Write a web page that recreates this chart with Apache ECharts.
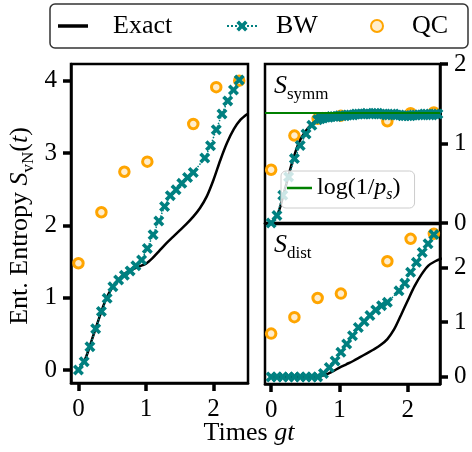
<!DOCTYPE html>
<html>
<head>
<meta charset="utf-8">
<script src="https://cdn.jsdelivr.net/npm/echarts@6/dist/echarts.min.js"></script>
<style>
html, body { margin: 0; padding: 0; background: #fff; }
#main { width: 472px; height: 452px; }
</style>
</head>
<body>
<div id="main"></div>
<script>
// exact curve, sampled every 0.1
var exactTime = [0, 0.1, 0.2, 0.3, 0.4, 0.5, 0.6, 0.7, 0.8, 0.9, 1.0, 1.1, 1.2, 1.3, 1.4, 1.5, 1.6, 1.7, 1.8, 1.9, 2.0, 2.1, 2.2, 2.3, 2.4, 2.5];
var exactTotal = [0, 0.15, 0.42, 0.70, 0.96, 1.14, 1.26, 1.34, 1.39, 1.43, 1.47, 1.55, 1.65, 1.75, 1.84, 1.93, 2.02, 2.12, 2.24, 2.40, 2.63, 2.90, 3.14, 3.33, 3.46, 3.54];
var exactSymm = [0, 0.12, 0.42, 0.74, 1.0, 1.15, 1.25, 1.30, 1.33, 1.34, 1.35, 1.35, 1.36, 1.36, 1.37, 1.37, 1.37, 1.37, 1.38, 1.37, 1.36, 1.36, 1.36, 1.37, 1.37, 1.37];
var exactDist = [0, 0, 0, 0, 0, 0, 0, 0.01, 0.04, 0.10, 0.17, 0.23, 0.29, 0.36, 0.43, 0.50, 0.58, 0.69, 0.87, 1.13, 1.40, 1.66, 1.87, 2.03, 2.11, 2.16];

// BW markers (one sample near 1.785 is absent in the figure)
var bwTime = [0, 0.085, 0.17, 0.255, 0.34, 0.425, 0.51, 0.595, 0.68, 0.765, 0.85, 0.935, 1.02, 1.105, 1.19, 1.275, 1.36, 1.445, 1.53, 1.615, 1.70, 1.87, 1.955, 2.04, 2.125, 2.21, 2.295, 2.38];
var bwTotal = [0, 0.115, 0.32, 0.57, 0.81, 0.99, 1.15, 1.245, 1.31, 1.37, 1.44, 1.52, 1.68, 1.87, 2.06, 2.26, 2.41, 2.49, 2.58, 2.66, 2.73, 2.93, 3.10, 3.32, 3.54, 3.72, 3.87, 4.01];
var bwDist = [0, 0, 0, 0, 0, 0, 0, 0, 0, 0.06, 0.17, 0.29, 0.45, 0.60, 0.75, 0.90, 1.01, 1.12, 1.22, 1.30, 1.36, 1.57, 1.71, 1.91, 2.09, 2.27, 2.43, 2.60];
// symmetric part: sparse start, then a dense plateau
var bwSymmTime = [0, 0.085, 0.17, 0.255, 0.34, 0.425, 0.51, 0.595, 0.68,
  0.72, 0.76, 0.80, 0.84, 0.88, 0.92, 0.96, 1.00, 1.04, 1.08, 1.12, 1.16, 1.20, 1.24, 1.28, 1.32, 1.36, 1.40, 1.44, 1.48,
  1.52, 1.56, 1.60, 1.64, 1.68, 1.72, 1.76, 1.80, 1.84, 1.88, 1.92, 1.96, 2.00, 2.04, 2.08, 2.12, 2.16, 2.20, 2.24, 2.28,
  2.32, 2.36, 2.40, 2.44, 2.48];
var bwSymm = [0, 0.095, 0.35, 0.58, 0.81, 0.975, 1.12, 1.23, 1.30,
  1.31, 1.32, 1.33, 1.33, 1.34, 1.34, 1.34, 1.35, 1.35, 1.35, 1.36, 1.36, 1.36, 1.37, 1.37, 1.37, 1.37, 1.38, 1.37, 1.37,
  1.38, 1.38, 1.37, 1.37, 1.36, 1.36, 1.37, 1.37, 1.36, 1.36, 1.35, 1.35, 1.35, 1.35, 1.36, 1.36, 1.36, 1.36, 1.37, 1.37,
  1.36, 1.36, 1.37, 1.37, 1.37];

// QC points
var qcTime = [0, 0.34, 0.68, 1.02, 1.70, 2.04, 2.38];
var qcTotal = [1.475, 2.18, 2.74, 2.88, 3.40, 3.91, 4.0];
var qcSymm = [0.67, 1.10, 1.31, 1.35, 1.28, 1.38, 1.39];
var qcDist = [0.79, 1.09, 1.44, 1.52, 2.11, 2.52, 2.61];

var logInvPs = 1.386;

var xTicks = [0, 1, 2];
var yTicksTotal = [0, 1, 2, 3, 4];
var yTicksRight = [0, 1, 2];

var serif = 'Liberation Serif';
var teal = '#008080';
var orange = '#FFA500';
var xPath = 'path://M0,2.3L2.3,0L5,2.7L7.7,0L10,2.3L7.3,5L10,7.7L7.7,10L5,7.3L2.3,10L0,7.7L2.7,5Z';

function pairs(xs, ys) {
	return xs.map(function (x, i) { return [x, ys[i]]; });
}

function panelSeries(idx, ex, bwT, bw, qc) {
	return [
		{
			name: 'Exact', type: 'line', xAxisIndex: idx, yAxisIndex: idx,
			data: pairs(exactTime, ex), smooth: 0.3, symbol: 'none',
			color: '#000', lineStyle: {color: '#000', width: 2.5}
		},
		{
			name: 'BW', type: 'line', xAxisIndex: idx, yAxisIndex: idx,
			data: pairs(bwT, bw), symbol: xPath, symbolSize: 11, showAllSymbol: true,
			color: teal, itemStyle: {color: teal},
			lineStyle: {color: teal, width: 1.5, type: 'dotted'}
		},
		{
			name: 'QC', type: 'scatter', xAxisIndex: idx, yAxisIndex: idx,
			data: pairs(qcTime, qc), symbol: 'circle', symbolSize: 9.5,
			itemStyle: {color: 'rgba(255,165,0,0.2)', borderColor: orange, borderWidth: 3, opacity: 1}
		}
	];
}

function tickAxis(grid, min, max, ticks, extra) {
	var a = {
		type: 'value', gridIndex: grid, min: min, max: max,
		axisLine: {show: true, onZero: false, lineStyle: {color: '#000', width: 2.5}},
		axisTick: {show: true, customValues: ticks, length: 8, lineStyle: {color: '#000', width: 3.5}},
		axisLabel: {show: true, customValues: ticks, margin: 14, fontSize: 25, fontFamily: serif, color: '#000'},
		splitLine: {show: false}
	};
	for (var k in extra) a[k] = extra[k];
	return a;
}

function bareAxis(grid, min, max) {
	return {
		type: 'value', gridIndex: grid, min: min, max: max,
		axisLine: {show: true, onZero: false, lineStyle: {color: '#000', width: 2.5}},
		axisTick: {show: false}, axisLabel: {show: false}, splitLine: {show: false}
	};
}

function mainLegend(name, left, gap, w, h, icon) {
	var item = {name: name};
	if (icon) item.icon = icon;
	return {
		data: [item], left: left, top: 13, itemWidth: w, itemHeight: h,
		selectedMode: false, padding: 0,
		formatter: function (n) { return '{t|' + n + '}'; },
		textStyle: {rich: {t: {fontSize: 26, fontFamily: serif, color: '#000', padding: [0, 0, 0, gap]}}}
	};
}

var richLabel = {
	r: {fontSize: 26, fontFamily: serif, color: '#000', lineHeight: 34},
	i: {fontSize: 26, fontFamily: serif, fontStyle: 'italic', color: '#000', lineHeight: 34},
	s: {fontSize: 17, fontFamily: serif, color: '#000', lineHeight: 16, verticalAlign: 'bottom'}
};

var chart = echarts.init(document.getElementById('main'));
var gridStyle = {show: true, borderColor: '#000', borderWidth: 2.5, backgroundColor: 'transparent'};

var option = {
	animation: false,
	backgroundColor: '#fff',
	grid: [
		Object.assign({left: 71, top: 64, width: 177, height: 319}, gridStyle),
		Object.assign({left: 265, top: 64, width: 175, height: 159}, gridStyle),
		Object.assign({left: 265, top: 224, width: 175, height: 160}, gridStyle)
	],
	xAxis: [
		tickAxis(0, -0.11, 2.51, xTicks, {}),
		bareAxis(1, -0.09, 2.47),
		tickAxis(2, -0.09, 2.47, xTicks, {})
	],
	yAxis: [
		tickAxis(0, -0.18, 4.23, yTicksTotal, {}),
		tickAxis(1, 0, 2, yTicksRight, {position: 'right'}),
		tickAxis(2, -0.13, 2.79, yTicksRight, {position: 'right'})
	],
	legend: [
		mainLegend('Exact', 58, 20, 30, 3.5, 'rect'),
		mainLegend('BW', 226, 14, 30, 14),
		mainLegend('QC', 370, 15, 30, 12),
		{
			data: [{name: 'log(1/p_s)', icon: 'rect'}], left: 281, top: 171, itemWidth: 25, itemHeight: 2.5,
			selectedMode: false, padding: [5, 14, 5, 6],
			backgroundColor: 'rgba(255,255,255,0.8)', borderColor: '#ccc', borderWidth: 1, borderRadius: 5,
			formatter: function () { return '{r|log(1/}{i|p}{s|s}{r|)}'; },
			textStyle: {rich: {
				r: {fontSize: 24, fontFamily: serif, color: '#000', lineHeight: 30},
				i: {fontSize: 24, fontFamily: serif, fontStyle: 'italic', color: '#000', lineHeight: 30},
				s: {fontSize: 16, fontFamily: serif, fontStyle: 'italic', color: '#000', lineHeight: 14, verticalAlign: 'bottom'}
			}}
		}
	],
	graphic: [
		{type: 'rect', z: 0, shape: {x: 50, y: 4, width: 418, height: 44, r: 5},
			style: {fill: '#fff', stroke: '#333', lineWidth: 1.5}},
		{type: 'text', x: 20, y: 226, rotation: Math.PI / 2,
			style: {text: '{r|Ent. Entropy }{i|S}{s|vN}{r|(}{i|t}{r|)}', rich: richLabel, align: 'center', verticalAlign: 'middle'}},
		{type: 'text', x: 249, y: 433,
			style: {text: '{r|Times }{i|gt}', rich: richLabel, align: 'center', verticalAlign: 'middle'}},
		{type: 'text', x: 274, y: 86,
			style: {text: '{i|S}{s|symm}', rich: richLabel, align: 'left', verticalAlign: 'middle'}},
		{type: 'text', x: 274, y: 245,
			style: {text: '{i|S}{s|dist}', rich: richLabel, align: 'left', verticalAlign: 'middle'}}
	],
	series: [].concat(
		panelSeries(0, exactTotal, bwTime, bwTotal, qcTotal),
		panelSeries(1, exactSymm, bwSymmTime, bwSymm, qcSymm),
		panelSeries(2, exactDist, bwTime, bwDist, qcDist),
		[{
			name: 'log(1/p_s)', type: 'line', xAxisIndex: 1, yAxisIndex: 1, data: [],
			symbol: 'none', color: 'green', lineStyle: {color: 'green', width: 2},
			markLine: {
				symbol: 'none', silent: true, label: {show: false},
				lineStyle: {color: 'green', width: 2, type: 'solid'},
				data: [{yAxis: logInvPs}]
			}
		}]
	)
};
chart.setOption(option);
</script>
</body>
</html>
